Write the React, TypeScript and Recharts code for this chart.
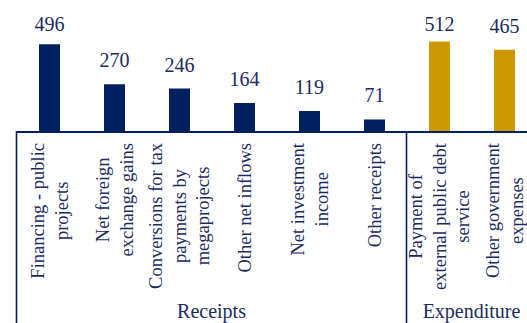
import { BarChart, Bar, XAxis, YAxis, Cell, LabelList } from 'recharts'

// values in USD million
const categories = [
  'Financing - public\nprojects',
  'Net foreign\nexchange gains',
  'Conversions for tax\npayments by\nmegaprojects',
  'Other net inflows',
  'Net investment\nincome',
  'Other receipts',
  'Payment of\nexternal public debt\nservice',
  'Other government\nexpenses',
]
const values = [496, 270, 246, 164, 119, 71, 512, 465]
const groups = ['Receipts', 'Receipts', 'Receipts', 'Receipts', 'Receipts', 'Receipts', 'Expenditure', 'Expenditure']

const NAVY = '#002060'
const GOLD = '#cc9900'
const TEXT = '#1c2b5e'
const FONT = '"Liberation Serif", "Times New Roman", serif'
const CAT_SIZE = 18.5

const CHART_W = 540
const MARGIN_L = 17
const MARGIN_R = 3
const BAND = (CHART_W - MARGIN_L - MARGIN_R) / categories.length

const data = categories.map((name, i) => ({ name, value: values[i], group: groups[i] }))

let ctx: CanvasRenderingContext2D | null = null
function textWidth(s: string) {
  if (!ctx) ctx = document.createElement('canvas').getContext('2d')
  if (!ctx) return s.length * CAT_SIZE * 0.42
  ctx.font = `${CAT_SIZE}px "Liberation Serif"`
  return ctx.measureText(s).width
}

function CategoryTick(props: any) {
  const { x, y, payload, index } = props
  const lines: string[] = String(payload.value).split('\n')
  const longest = Math.max(...lines.map(textWidth))
  const cy = y + 11 + longest / 2
  const left = x - BAND / 2 - 0.5
  const first = groups.indexOf(groups[index]) === index
  const count = groups.filter(g => g === groups[index]).length
  return (
    <g>
      {lines.map((line, i) => {
        const cx = x + (i - (lines.length - 1) / 2) * 23.5 + 0.5
        return (
          <text
            key={i}
            x={cx}
            y={cy}
            transform={`rotate(-90, ${cx}, ${cy})`}
            textAnchor="middle"
            dominantBaseline="central"
            fontFamily={FONT}
            fontSize={CAT_SIZE}
            fill={TEXT}
          >
            {line}
          </text>
        )
      })}
      {first && (
        <>
          <line x1={left} y1={y - 1} x2={left} y2={y + 220} stroke={NAVY} strokeWidth={1.6} />
          <text
            x={left + (count * BAND) / 2}
            y={318}
            textAnchor="middle"
            fontFamily={FONT}
            fontSize={20}
            fill={TEXT}
          >
            {groups[index]}
          </text>
        </>
      )}
    </g>
  )
}

function ValueLabel(props: any) {
  const { x, y, width, value } = props
  const base = Math.max(y - 17, 31)
  return (
    <text x={x + width / 2} y={base} textAnchor="middle" fontFamily={FONT} fontSize={20} fill={TEXT}>
      {value}
    </text>
  )
}

export default function App() {
  return (
    <div style={{ position: 'absolute', left: 0, top: 0, width: 527, height: 323, overflow: 'hidden', background: '#fff' }}>
      <BarChart
        width={CHART_W}
        height={345}
        data={data}
        margin={{ top: 26, right: MARGIN_R, bottom: 0, left: MARGIN_L }}
      >
        <YAxis hide domain={[0, 600]} />
        <XAxis
          dataKey="name"
          interval={0}
          height={213}
          tickLine={false}
          tickSize={0}
          tickMargin={0}
          axisLine={{ stroke: NAVY, strokeWidth: 2 }}
          tick={<CategoryTick />}
        />
        <Bar dataKey="value" barSize={21} isAnimationActive={false}>
          {data.map((d, i) => (
            <Cell key={i} fill={d.group === 'Receipts' ? NAVY : GOLD} />
          ))}
          <LabelList dataKey="value" content={<ValueLabel />} />
        </Bar>
      </BarChart>
    </div>
  )
}
